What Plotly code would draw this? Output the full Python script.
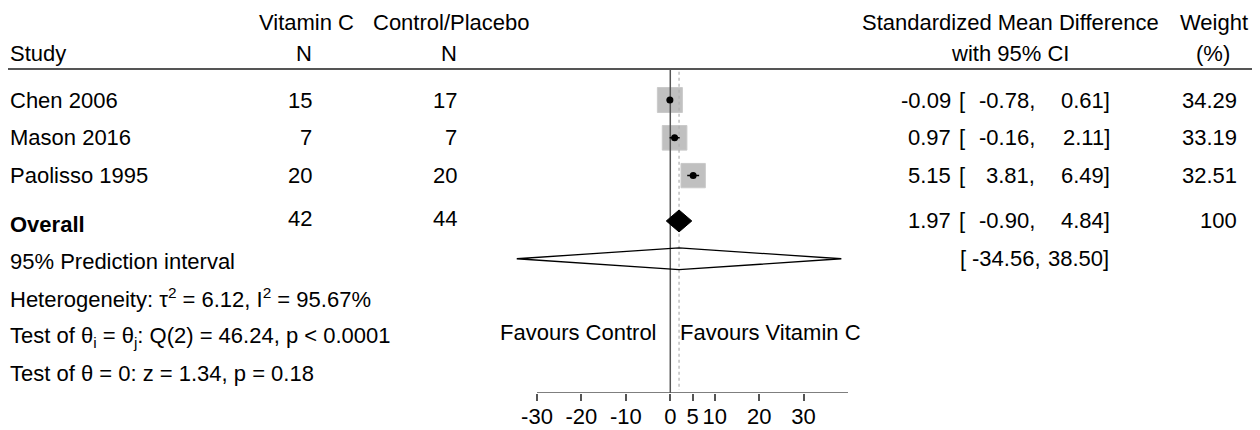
import math
import plotly.graph_objects as go

# ---------------- data ----------------
studies = ["Chen 2006", "Mason 2016", "Paolisso 1995"]
n_vitc = [15, 7, 20]
n_ctrl = [17, 7, 20]
smd = [-0.09, 0.97, 5.15]
ci_lo = [-0.78, -0.16, 3.81]
ci_hi = [0.61, 2.11, 6.49]
weights = [34.29, 33.19, 32.51]

overall_label = "Overall"
overall_n_vitc = 42
overall_n_ctrl = 44
overall_est = 1.97
overall_lo = -0.90
overall_hi = 4.84
overall_weight = 100

pi_label = "95% Prediction interval"
pi_lo = -34.56
pi_hi = 38.50

stat_lines = [
    "Heterogeneity: τ<sup>2</sup> = 6.12, I<sup>2</sup> = 95.67%",
    "Test of θ<sub>i</sub> = θ<sub>j</sub>: Q(2) = 46.24, p < 0.0001",
    "Test of θ = 0: z = 1.34, p = 0.18",
]

tick_vals = [-30, -20, -10, 0, 5, 10, 20, 30]
tick_text = ["-30", "-20", "-10", "0", "5", "10", "20", "30"]
axis_min, axis_max = -30, 40

favours_left = "Favours Control"
favours_right = "Favours Vitamin C"

# ---------------- layout constants ----------------
OFF = 8                      # page body margin of the browser
W, H = 1260 - OFF, 430 - OFF
FONT = "Liberation Sans, Arial, sans-serif"
FS = 22
ROW_PX = 37.8
ROW1_PX = 100
study_rows = [1, 2, 3]
overall_row = 4.2
pi_row = 5.2
stat_rows = [6.238, 7.262, 8.230]
favours_row = 7.138
pi_label_row = 5.278
hdr1_row, hdr2_row = -1.063, -0.243
hline_row = 0.18
AXIS_PX = 393
y_bottom = 1 + (AXIS_PX - ROW1_PX) / ROW_PX
y_top = 1 + (OFF - ROW1_PX) / ROW_PX
y_range = [y_bottom, y_top]
dia_h = 0.29

PX_PER_UNIT = (848 - 537) / (axis_max - axis_min)
ZERO_PX = 537 - axis_min * PX_PER_UNIT
x_left = -36
x_range = [x_left, axis_max]
dom_left_px = ZERO_PX + x_left * PX_PER_UNIT


def px(x):
    return (x - OFF) / W


fig = go.Figure()

# study squares (sized by weight)
k = 25 / math.sqrt(max(weights))
fig.add_trace(go.Scatter(
    x=smd, y=study_rows, mode="markers",
    marker=dict(symbol="square", size=[k * math.sqrt(w) for w in weights],
                color="#a6a6a6", line=dict(width=1, color="#b4b4b4")),
    hoverinfo="skip"))

# no-effect line and overall-effect dotted line (over the squares)
fig.add_trace(go.Scatter(x=[0, 0], y=[hline_row, y_bottom], mode="lines",
                         line=dict(color="#555555", width=1.5), hoverinfo="skip"))
fig.add_trace(go.Scatter(x=[overall_est, overall_est], y=[0.25, 8.67], mode="lines",
                         line=dict(color="#b0b0b0", width=1.2, dash="dot"),
                         hoverinfo="skip"))

# CI lines
cx, cy = [], []
for lo, hi, r in zip(ci_lo, ci_hi, study_rows):
    cx += [lo, hi, None]
    cy += [r, r, None]
fig.add_trace(go.Scatter(x=cx, y=cy, mode="lines",
                         line=dict(color="black", width=1.5), hoverinfo="skip"))

# point estimates
fig.add_trace(go.Scatter(x=smd, y=study_rows, mode="markers",
                         marker=dict(symbol="circle", size=7, color="black"),
                         hoverinfo="skip"))

# overall diamond
fig.add_trace(go.Scatter(
    x=[overall_lo, overall_est, overall_hi, overall_est, overall_lo],
    y=[overall_row, overall_row - dia_h, overall_row, overall_row + dia_h, overall_row],
    mode="lines", fill="toself", fillcolor="black",
    line=dict(color="black", width=1), hoverinfo="skip"))

# prediction interval diamond (outline only)
fig.add_trace(go.Scatter(
    x=[pi_lo, overall_est, pi_hi, overall_est, pi_lo],
    y=[pi_row, pi_row - dia_h, pi_row, pi_row + dia_h, pi_row],
    mode="lines", line=dict(color="black", width=1.3), hoverinfo="skip"))

shapes = [
    # header rule
    dict(type="line", xref="paper", yref="y", x0=px(4), x1=px(1257),
         y0=hline_row, y1=hline_row, line=dict(color="#555555", width=2)),
    # axis line from axis_min to axis_max
    dict(type="line", xref="x", yref="y", x0=axis_min, x1=axis_max,
         y0=y_bottom, y1=y_bottom, line=dict(color="#555555", width=1.5)),
]

ann = []


def add(text, x, row, anchor="left", yshift=0, bold=False):
    ann.append(dict(text=f"<b>{text}</b>" if bold else text,
                    x=px(x), y=row, xref="paper", yref="y",
                    xanchor=anchor, yanchor="middle", showarrow=False,
                    yshift=yshift, font=dict(family=FONT, size=FS, color="black")))


# headers
add("Study", 8, hdr2_row)
add("Vitamin C", 306, hdr1_row, "center")
add("N", 314, hdr2_row, "right")
add("Control/Placebo", 451, hdr1_row, "center")
add("N", 459, hdr2_row, "right")
add("Standardized Mean Difference", 1010, hdr1_row, "center")
add("with 95% CI", 1010, hdr2_row, "center")
add("Weight", 1214, hdr1_row, "center")
add("(%)", 1213, hdr2_row, "center")

# study rows
for s, nv, nc, e, lo, hi, w, r in zip(studies, n_vitc, n_ctrl, smd, ci_lo, ci_hi,
                                      weights, study_rows):
    add(s, 8, r)
    add(str(nv), 314, r, "right")
    add(str(nc), 459, r, "right")
    add(f"{e:.2f}", 953, r, "right")
    add("[", 957, r, "left")
    add(f"{lo:.2f},", 1037, r, "right")
    add(f"{hi:.2f}]", 1112, r, "right")
    add(f"{w:.2f}", 1239, r, "right")

# overall row
add(overall_label, 8, overall_row, yshift=-4, bold=True)
add(str(overall_n_vitc), 314, overall_row, "right", yshift=2)
add(str(overall_n_ctrl), 459, overall_row, "right", yshift=2)
add(f"{overall_est:.2f}", 953, overall_row, "right")
add("[", 957, overall_row, "left")
add(f"{overall_lo:.2f},", 1037, overall_row, "right")
add(f"{overall_hi:.2f}]", 1112, overall_row, "right")
add(str(overall_weight), 1239, overall_row, "right")

# prediction interval row
add(pi_label, 8, pi_label_row)
add("[", 958, pi_row, "left")
add(f"{pi_lo:.2f},", 1043, pi_row, "right")
add(f"{pi_hi:.2f}]", 1111, pi_row, "right")

# stats
for t, r in zip(stat_lines, stat_rows):
    add(t, 8, r)

# favours
add(favours_left, 659, favours_row, "right")
add(favours_right, 678, favours_row, "left")

fig.update_layout(
    width=W, height=H,
    margin=dict(l=0, r=0, t=0, b=0),
    paper_bgcolor="white", plot_bgcolor="white",
    showlegend=False,
    shapes=shapes, annotations=ann,
    xaxis=dict(domain=[px(dom_left_px), px(848)], range=x_range,
               showline=False,
               ticks="outside", ticklen=7, tickwidth=1.5, tickcolor="#555555",
               ticklabelstandoff=-3,
               tickvals=tick_vals, ticktext=tick_text,
               tickfont=dict(family=FONT, size=FS, color="black"),
               showgrid=False, zeroline=False, automargin=False, fixedrange=True),
    yaxis=dict(domain=[(H - (AXIS_PX - OFF)) / H, 1], range=y_range, visible=False,
               showgrid=False, zeroline=False, automargin=False, fixedrange=True),
)

fig.write_html("out.html")
